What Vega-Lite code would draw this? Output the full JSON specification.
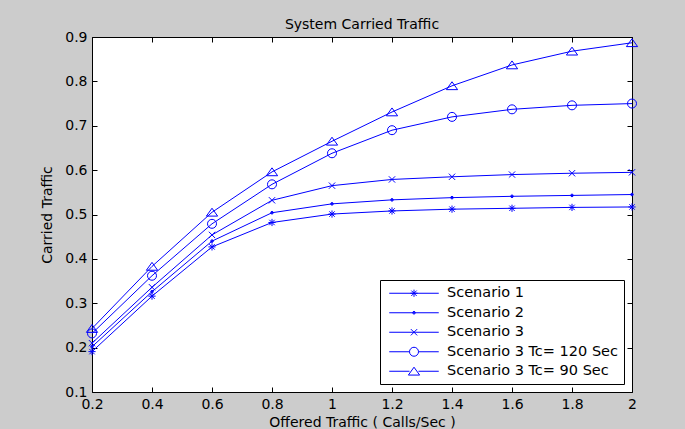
{
  "$schema": "https://vega.github.io/schema/vega-lite/v6.json",
  "width": 540,
  "height": 355,
  "autosize": {"type": "none"},
  "padding": {"left": 92, "top": 37, "right": 53, "bottom": 37},
  "background": "#cccccc",
  "title": {"text": "System Carried Traffic", "font": "DejaVu Sans", "fontSize": 14, "fontWeight": "normal", "color": "black", "offset": -2, "anchor": "middle"},
  "config": {
    "view": {"fill": "white", "stroke": "black", "strokeWidth": 1},
    "axis": {"labelFont": "DejaVu Sans", "labelFontSize": 14, "labelColor": "black", "titleFont": "DejaVu Sans", "titleFontSize": 14, "titleFontWeight": "normal", "titleColor": "black", "grid": false, "domain": false, "ticks": true, "tickColor": "black", "tickOpacity": 1, "tickWidth": 1, "tickSize": 5, "labelFlush": false, "labelOverlap": false, "zindex": 2}
  },
  "data": {"values": [
    {"x": 0.2, "y": 0.191, "series": "Scenario 1"},
    {"x": 0.4, "y": 0.316, "series": "Scenario 1"},
    {"x": 0.6, "y": 0.427, "series": "Scenario 1"},
    {"x": 0.8, "y": 0.482, "series": "Scenario 1"},
    {"x": 1.0, "y": 0.501, "series": "Scenario 1"},
    {"x": 1.2, "y": 0.508, "series": "Scenario 1"},
    {"x": 1.4, "y": 0.512, "series": "Scenario 1"},
    {"x": 1.6, "y": 0.514, "series": "Scenario 1"},
    {"x": 1.8, "y": 0.516, "series": "Scenario 1"},
    {"x": 2.0, "y": 0.517, "series": "Scenario 1"},
    {"x": 0.2, "y": 0.202, "series": "Scenario 2"},
    {"x": 0.4, "y": 0.326, "series": "Scenario 2"},
    {"x": 0.6, "y": 0.440, "series": "Scenario 2"},
    {"x": 0.8, "y": 0.504, "series": "Scenario 2"},
    {"x": 1.0, "y": 0.524, "series": "Scenario 2"},
    {"x": 1.2, "y": 0.533, "series": "Scenario 2"},
    {"x": 1.4, "y": 0.538, "series": "Scenario 2"},
    {"x": 1.6, "y": 0.541, "series": "Scenario 2"},
    {"x": 1.8, "y": 0.543, "series": "Scenario 2"},
    {"x": 2.0, "y": 0.545, "series": "Scenario 2"},
    {"x": 0.2, "y": 0.210, "series": "Scenario 3"},
    {"x": 0.4, "y": 0.336, "series": "Scenario 3"},
    {"x": 0.6, "y": 0.454, "series": "Scenario 3"},
    {"x": 0.8, "y": 0.532, "series": "Scenario 3"},
    {"x": 1.0, "y": 0.565, "series": "Scenario 3"},
    {"x": 1.2, "y": 0.579, "series": "Scenario 3"},
    {"x": 1.4, "y": 0.585, "series": "Scenario 3"},
    {"x": 1.6, "y": 0.590, "series": "Scenario 3"},
    {"x": 1.8, "y": 0.593, "series": "Scenario 3"},
    {"x": 2.0, "y": 0.595, "series": "Scenario 3"},
    {"x": 0.2, "y": 0.232, "series": "Scenario 3 Tc= 120 Sec"},
    {"x": 0.4, "y": 0.362, "series": "Scenario 3 Tc= 120 Sec"},
    {"x": 0.6, "y": 0.479, "series": "Scenario 3 Tc= 120 Sec"},
    {"x": 0.8, "y": 0.568, "series": "Scenario 3 Tc= 120 Sec"},
    {"x": 1.0, "y": 0.638, "series": "Scenario 3 Tc= 120 Sec"},
    {"x": 1.2, "y": 0.690, "series": "Scenario 3 Tc= 120 Sec"},
    {"x": 1.4, "y": 0.720, "series": "Scenario 3 Tc= 120 Sec"},
    {"x": 1.6, "y": 0.737, "series": "Scenario 3 Tc= 120 Sec"},
    {"x": 1.8, "y": 0.746, "series": "Scenario 3 Tc= 120 Sec"},
    {"x": 2.0, "y": 0.750, "series": "Scenario 3 Tc= 120 Sec"},
    {"x": 0.2, "y": 0.243, "series": "Scenario 3 Tc= 90 Sec"},
    {"x": 0.4, "y": 0.383, "series": "Scenario 3 Tc= 90 Sec"},
    {"x": 0.6, "y": 0.505, "series": "Scenario 3 Tc= 90 Sec"},
    {"x": 0.8, "y": 0.596, "series": "Scenario 3 Tc= 90 Sec"},
    {"x": 1.0, "y": 0.665, "series": "Scenario 3 Tc= 90 Sec"},
    {"x": 1.2, "y": 0.731, "series": "Scenario 3 Tc= 90 Sec"},
    {"x": 1.4, "y": 0.790, "series": "Scenario 3 Tc= 90 Sec"},
    {"x": 1.6, "y": 0.837, "series": "Scenario 3 Tc= 90 Sec"},
    {"x": 1.8, "y": 0.868, "series": "Scenario 3 Tc= 90 Sec"},
    {"x": 2.0, "y": 0.887, "series": "Scenario 3 Tc= 90 Sec"}
  ]},
  "layer": [
    {
      "mark": {"type": "line", "color": "#0000ff", "strokeWidth": 1},
      "encoding": {
        "x": {"field": "x", "type": "quantitative", "scale": {"domain": [0.2, 2], "nice": false, "zero": false}, "axis": {"orient": "bottom", "title": "Offered Traffic ( Calls/Sec )", "values": [0.2, 0.4, 0.6, 0.8, 1, 1.2, 1.4, 1.6, 1.8, 2], "format": "~g", "ticks": false, "tickSize": 0, "labelPadding": 5, "titlePadding": 4}},
        "y": {"field": "y", "type": "quantitative", "scale": {"domain": [0.1, 0.9], "nice": false, "zero": false}, "axis": {"orient": "left", "title": "Carried Traffic", "values": [0.1, 0.2, 0.3, 0.4, 0.5, 0.6, 0.7, 0.8, 0.9], "format": "~g", "ticks": false, "tickSize": 0, "labelPadding": 5, "titlePadding": 10}},
        "detail": {"field": "series"}
      }
    },
    {
      "mark": {"type": "point", "filled": false, "color": "#0000ff", "strokeWidth": 1, "size": 81, "opacity": 1},
      "encoding": {
        "x": {"field": "x", "type": "quantitative", "axis": {"orient": "top", "offset": -355, "title": null, "labels": false, "ticks": true, "values": [0.2, 0.4, 0.6, 0.8, 1, 1.2, 1.4, 1.6, 1.8, 2]}},
        "y": {"field": "y", "type": "quantitative", "axis": {"orient": "right", "offset": -540, "title": null, "labels": false, "ticks": true, "values": [0.1, 0.2, 0.3, 0.4, 0.5, 0.6, 0.7, 0.8, 0.9]}},
        "shape": {
          "field": "series", "type": "nominal",
          "scale": {
            "domain": ["Scenario 1", "Scenario 2", "Scenario 3", "Scenario 3 Tc= 120 Sec", "Scenario 3 Tc= 90 Sec"],
            "range": [
              "M-0.8,0H0.8M0,-0.8V0.8M-0.6,-0.6L0.6,0.6M-0.6,0.6L0.6,-0.6",
              "M-0.3,0A0.3,0.3,0,1,0,0.3,0A0.3,0.3,0,1,0,-0.3,0ZM-0.2,0H0.2M0,-0.2V0.2",
              "M-0.7,-0.7L0.7,0.7M-0.7,0.7L0.7,-0.7",
              "M-1,0A1,1,0,1,0,1,0A1,1,0,1,0,-1,0Z",
              "M0,-0.9L1.25,0.85H-1.25Z"
            ]
          },
          "legend": null
        }
      }
    },
    {
      "mark": {"type": "point", "filled": false, "color": "#0000ff", "strokeWidth": 1, "size": 81, "opacity": 0},
      "encoding": {
        "x": {"field": "x", "type": "quantitative", "axis": {"orient": "bottom", "offset": -355, "title": null, "labels": false, "ticks": true, "values": [0.2, 0.4, 0.6, 0.8, 1, 1.2, 1.4, 1.6, 1.8, 2]}},
        "y": {"field": "y", "type": "quantitative", "axis": {"orient": "left", "offset": -540, "title": null, "labels": false, "ticks": true, "values": [0.1, 0.2, 0.3, 0.4, 0.5, 0.6, 0.7, 0.8, 0.9]}},
        "shape": {
          "field": "series", "type": "nominal",
          "scale": {
            "domain": ["Scenario 1", "Scenario 2", "Scenario 3", "Scenario 3 Tc= 120 Sec", "Scenario 3 Tc= 90 Sec"],
            "range": [
              "M-5.5,0H5.5M-0.8,0H0.8M0,-0.8V0.8M-0.6,-0.6L0.6,0.6M-0.6,0.6L0.6,-0.6",
              "M-5.5,0H5.5M-0.3,0A0.3,0.3,0,1,0,0.3,0A0.3,0.3,0,1,0,-0.3,0ZM0,-0.2V0.2",
              "M-5.5,0H5.5M-0.7,-0.7L0.7,0.7M-0.7,0.7L0.7,-0.7",
              "M-5.5,0H-1M1,0H5.5M-1,0A1,1,0,1,0,1,0A1,1,0,1,0,-1,0Z",
              "M-5.5,0H-1M1,0H5.5M0,-0.9L1.25,0.85H-1.25Z"
            ]
          },
          "legend": {
            "title": null,
            "orient": "bottom-right",
            "offset": 8,
            "padding": 6,
            "strokeColor": "black",
            "fillColor": "white",
            "labelFont": "DejaVu Sans",
            "labelFontSize": 14.5,
            "labelColor": "black",
            "labelLimit": 400,
            "symbolSize": 81,
            "symbolOffset": 20.75,
            "labelOffset": 25.75,
            "rowPadding": 4.5,
            "symbolOpacity": 1,
            "symbolStrokeColor": "#0000ff",
            "symbolFillColor": "transparent",
            "symbolStrokeWidth": 1
          }
        }
      }
    }
  ],
  "resolve": {"axis": {"x": "independent", "y": "independent"}, "scale": {"shape": "independent"}}
}
